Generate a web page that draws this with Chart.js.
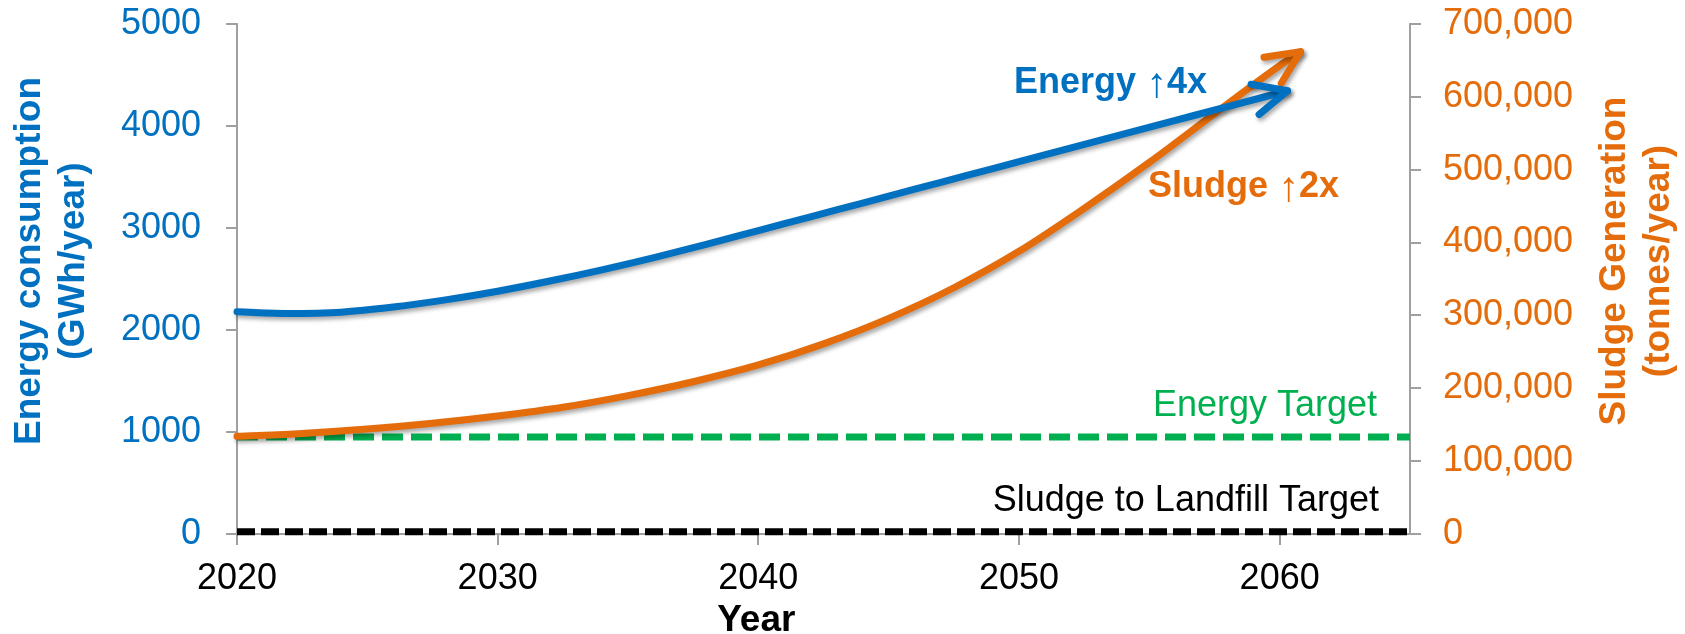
<!DOCTYPE html>
<html><head><meta charset="utf-8">
<script src="https://cdn.jsdelivr.net/npm/chart.js@4.4.1/dist/chart.umd.min.js"></script>
<style>html,body{margin:0;padding:0;background:#fff;overflow:hidden}</style>
</head><body>
<canvas id="c" width="1685" height="634" style="width:1685px;height:634px;display:block"></canvas>
<script>
// ---- data ----
const energyYears = [2020, 2022, 2024, 2026, 2028, 2030, 2032, 2034, 2036, 2038, 2040, 2042, 2044, 2046, 2048, 2050, 2052, 2054, 2056, 2058, 2060.3];
const energyGWh   = [2180, 2162, 2175, 2225, 2295, 2380, 2480, 2590, 2710, 2840, 2975, 3110, 3245, 3380, 3515, 3650, 3785, 3920, 4055, 4190, 4345];
const sludgeYears = [2020, 2022.5, 2025, 2027.5, 2030, 2032.5, 2035, 2037.5, 2040, 2042.5, 2045, 2047.5, 2050, 2052.5, 2055, 2057.5, 2060, 2060.8];
const sludgeTonnes = [134000, 138000, 144000, 152000, 162000, 174000, 190000, 209000, 232000, 261000, 296000, 338000, 388000, 447000, 510000, 577000, 643000, 662000];
const targetYears = [2020, 2065];
const energyTargetGWh = [950, 950];
const landfillTargetTonnes = [3000, 3000];
const yearTicks = [2020, 2030, 2040, 2050, 2060];
const energyTicks = [0, 1000, 2000, 3000, 4000, 5000];
const sludgeTicks = [0, 100000, 200000, 300000, 400000, 500000, 600000, 700000];
const texts = {
  xTitle: 'Year',
  yTitle: ['Energy consumption', '(GWh/year)'],
  y2Title: ['Sludge Generation', '(tonnes/year)'],
  energy: ['Energy ', '\u2191', '4x'],
  sludge: ['Sludge ', '\u2191', '2x'],
  energyTarget: 'Energy Target',
  landfillTarget: 'Sludge to Landfill Target'
};

const BLUE = '#0070C0', ORANGE = '#E46C0A', GREEN = '#00B050', AXIS = '#A0A0A0';
const FONT = '"Liberation Sans", Arial, sans-serif';

const pts = (xs, ys) => xs.map((x, i) => ({x, y: ys[i]}));

const shadowPlugin = {
  id: 'shadow',
  beforeDatasetDraw(chart, args) {
    if (args.index <= 1) {
      const c = chart.ctx; c.save();
      c.shadowColor = 'rgba(0,0,0,0.35)'; c.shadowBlur = 4; c.shadowOffsetX = 2; c.shadowOffsetY = 3;
    }
  },
  afterDatasetDraw(chart, args) { if (args.index <= 1) chart.ctx.restore(); }
};

function drawArrowHead(chart, idx, color) {
  const meta = chart.getDatasetMeta(idx);
  const d = meta.data; const p = d[d.length - 1]; const prev = d[d.length - 2];
  let bx = (p.cp1x !== undefined ? p.cp1x : prev.x) - p.x;
  let by = (p.cp1y !== undefined ? p.cp1y : prev.y) - p.y;
  if (Math.hypot(bx, by) < 0.5) { bx = prev.x - p.x; by = prev.y - p.y; }
  const ang = Math.atan2(by, bx); const L = 37, a = 25 * Math.PI / 180;
  const c = chart.ctx; c.save();
  c.shadowColor = 'rgba(0,0,0,0.35)'; c.shadowBlur = 4; c.shadowOffsetX = 2; c.shadowOffsetY = 3;
  c.strokeStyle = color; c.lineWidth = 7; c.lineCap = 'round'; c.lineJoin = 'round';
  c.beginPath();
  c.moveTo(p.x + L * Math.cos(ang + a), p.y + L * Math.sin(ang + a));
  c.lineTo(p.x, p.y);
  c.lineTo(p.x + L * Math.cos(ang - a), p.y + L * Math.sin(ang - a));
  c.stroke(); c.restore();
}

function drawSegments(c, segs, x, y, color) {
  const fonts = ['bold 36px ' + FONT, '42px ' + FONT, 'bold 36px ' + FONT];
  const dy = [0, 4, 0];
  c.fillStyle = color; c.textAlign = 'left'; c.textBaseline = 'alphabetic';
  segs.forEach((s, i) => { c.font = fonts[i]; c.fillText(s, x, y + dy[i]); x += c.measureText(s).width; });
}

const annotPlugin = {
  id: 'annot',
  afterDatasetsDraw(chart) {
    drawArrowHead(chart, 1, ORANGE);
    drawArrowHead(chart, 0, BLUE);
  },
  afterDraw(chart) {
    const c = chart.ctx; const xs = chart.scales.x, yl = chart.scales.y, yr = chart.scales.y2;
    c.save();
    c.font = 'bold 37px ' + FONT; c.textAlign = 'center'; c.textBaseline = 'alphabetic';
    c.fillStyle = '#000';
    c.fillText(texts.xTitle, xs.getPixelForValue(2040) - 2, 631);
    c.save(); c.translate(0, 261); c.rotate(-Math.PI / 2);
    c.fillStyle = BLUE;
    c.fillText(texts.yTitle[0], 0, 40); c.fillText(texts.yTitle[1], 0, 84);
    c.fillStyle = ORANGE;
    c.fillText(texts.y2Title[0], 0, 1625); c.fillText(texts.y2Title[1], 0, 1669);
    c.restore();
    drawSegments(c, texts.energy, 1014, 93, BLUE);
    drawSegments(c, texts.sludge, 1148, 197, ORANGE);
    c.font = '36px ' + FONT; c.textAlign = 'right'; c.textBaseline = 'alphabetic';
    c.fillStyle = GREEN; c.fillText(texts.energyTarget, 1377, yl.getPixelForValue(energyTargetGWh[0]) - 21);
    c.fillStyle = '#000'; c.fillText(texts.landfillTarget, 1379, yr.getPixelForValue(landfillTargetTonnes[0]) - 21);
    c.restore();
  }
};

const axisGrid = { drawOnChartArea: false, drawTicks: true, tickLength: 11, color: AXIS, lineWidth: 2 };
const axisBorder = { color: AXIS, width: 2 };
const fitY = w => s => { s.width = w; s.paddingTop = 0; s.paddingBottom = 0; };

new Chart(document.getElementById('c'), {
  type: 'line',
  data: {
    datasets: [
      { label: 'Energy', data: pts(energyYears, energyGWh), yAxisID: 'y', borderColor: BLUE, borderWidth: 7,
        pointRadius: 0, cubicInterpolationMode: 'monotone', borderCapStyle: 'round', order: 0, clip: false },
      { label: 'Sludge', data: pts(sludgeYears, sludgeTonnes), yAxisID: 'y2', borderColor: ORANGE, borderWidth: 7,
        pointRadius: 0, cubicInterpolationMode: 'monotone', borderCapStyle: 'round', order: 1, clip: false },
      { label: 'Energy Target', data: pts(targetYears, energyTargetGWh), yAxisID: 'y', borderColor: GREEN, borderWidth: 7,
        borderDash: [21, 8], pointRadius: 0, order: 2 },
      { label: 'Sludge to Landfill Target', data: pts(targetYears, landfillTargetTonnes), yAxisID: 'y2', borderColor: '#000', borderWidth: 7,
        borderDash: [18, 6], pointRadius: 0, order: 3, clip: false }
    ]
  },
  options: {
    responsive: false, animation: false, devicePixelRatio: 1,
    layout: { padding: { top: 24, left: 0, right: 0, bottom: 0 } },
    plugins: { legend: { display: false }, tooltip: { enabled: false } },
    scales: {
      x: { type: 'linear', position: 'bottom', min: 2020, max: 2065,
        afterBuildTicks: s => { s.ticks = yearTicks.map(v => ({ value: v })); },
        afterFit: s => { s.height = 100; },
        ticks: { font: { family: FONT, size: 36 }, color: '#000', padding: 12, maxRotation: 0, autoSkip: false,
          callback: v => String(v) },
        grid: axisGrid, border: axisBorder },
      y: { type: 'linear', position: 'left', min: 0, max: 5000,
        afterBuildTicks: s => { s.ticks = energyTicks.map(v => ({ value: v })); },
        afterFit: fitY(237),
        ticks: { font: { family: FONT, size: 36 }, color: BLUE, padding: 25, callback: v => String(v) },
        grid: axisGrid, border: axisBorder },
      y2: { type: 'linear', position: 'right', min: 0, max: 700000,
        afterBuildTicks: s => { s.ticks = sludgeTicks.map(v => ({ value: v })); },
        afterFit: fitY(275),
        ticks: { font: { family: FONT, size: 36 }, color: ORANGE, padding: 22, callback: v => v.toLocaleString('en-US') },
        grid: axisGrid, border: axisBorder }
    }
  },
  plugins: [shadowPlugin, annotPlugin]
});
</script>
</body></html>
